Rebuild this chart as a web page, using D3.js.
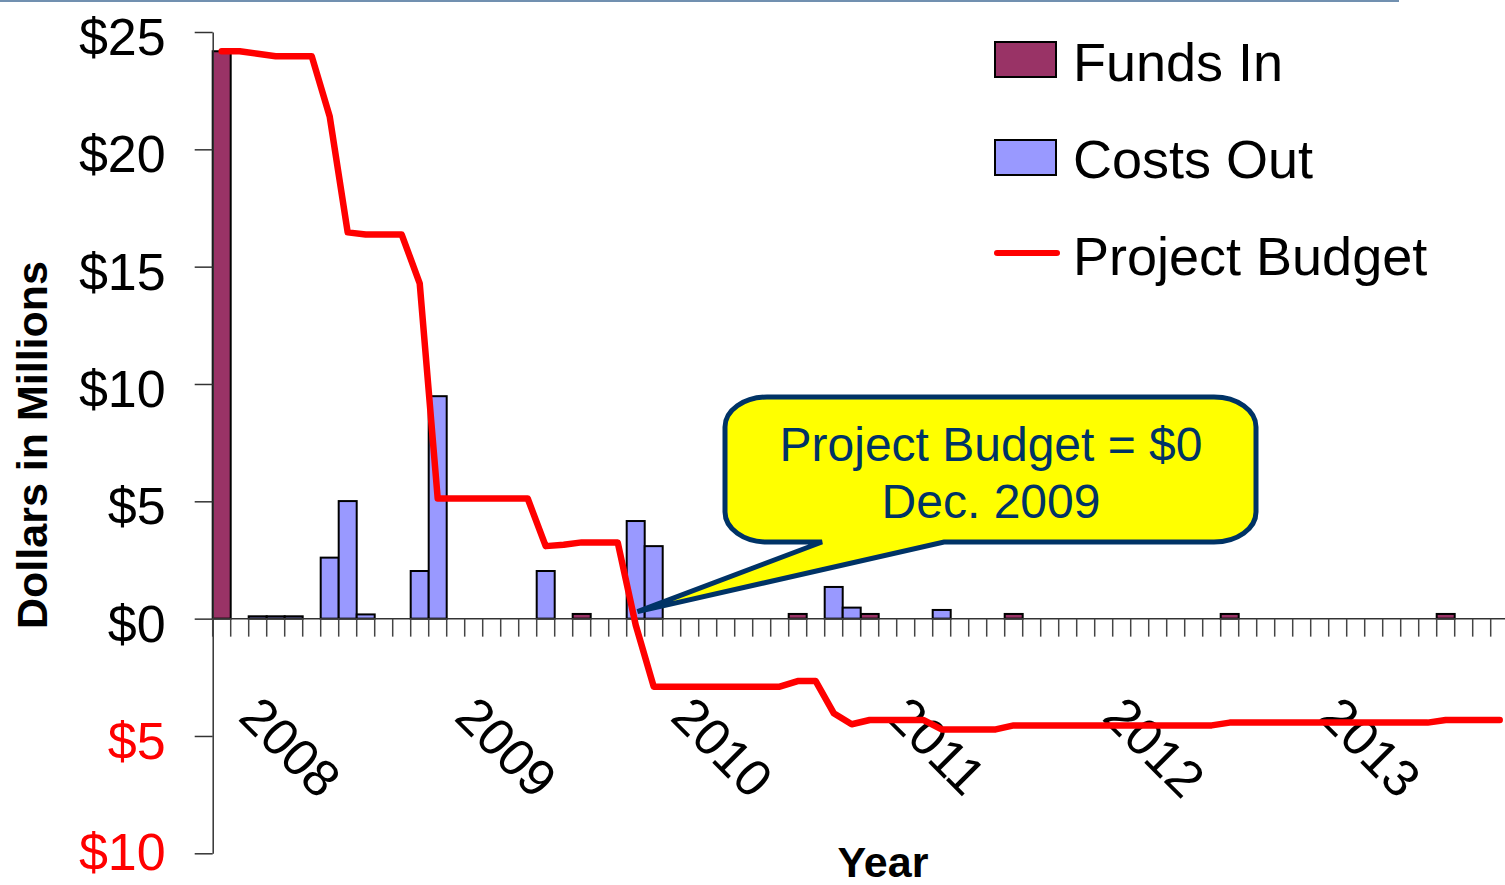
<!DOCTYPE html>
<html>
<head>
<meta charset="utf-8">
<script src="https://cdn.jsdelivr.net/npm/d3@7"></script>
<style>
  body { margin: 0; background: #fff; }
  svg { display: block; font-family: "Liberation Sans", Arial, sans-serif; }
</style>
</head>
<body>
<div id="chart"></div>
<script>
// categories: one slot per month, Jan 2008 .. Dec 2013
var years = ["2008", "2009", "2010", "2011", "2012", "2013"];
var months = years.flatMap(function(yr) {
  return d3.range(1, 13).map(function(m) { return yr + "-" + (m < 10 ? "0" + m : m); });
});

// $ millions per month
var fundsIn = [
  24.18, 0, 0, 0, 0, 0, 0, 0, 0, 0, 0, 0,
  0, 0, 0, 0, 0, 0, 0, 0, 0.2, 0, 0, 0,
  0, 0, 0, 0, 0, 0, 0, 0, 0.2, 0, 0, 0,
  0.2, 0, 0, 0, 0, 0, 0, 0, 0.2, 0, 0, 0,
  0, 0, 0, 0, 0, 0, 0, 0, 0.2, 0, 0, 0,
  0, 0, 0, 0, 0, 0, 0, 0, 0.2, 0, 0, 0
];
var costsOut = [
  0, 0, 0.1, 0.1, 0.1, 0, 2.6, 5.01, 0.18, 0, 0, 2.03,
  9.48, 0, 0, 0, 0, 0, 2.03, 0, 0, 0, 0, 4.16,
  3.09, 0, 0, 0, 0, 0, 0, 0, 0, 0, 1.35, 0.47,
  0, 0, 0, 0, 0.37, 0, 0, 0, 0, 0, 0, 0,
  0, 0, 0, 0, 0, 0, 0, 0, 0, 0, 0, 0,
  0, 0, 0, 0, 0, 0, 0, 0, 0, 0, 0, 0
];
var budget = [
  24.18, 24.18, 24.07, 23.97, 23.97, 23.97, 21.4, 16.46, 16.37, 16.37, 16.37, 14.29,
  5.12, 5.12, 5.12, 5.12, 5.12, 5.12, 3.09, 3.15, 3.25, 3.25, 3.25, -0.27,
  -2.9, -2.9, -2.9, -2.9, -2.9, -2.9, -2.9, -2.9, -2.66, -2.66, -4.03, -4.5,
  -4.32, -4.32, -4.32, -4.32, -4.72, -4.72, -4.72, -4.72, -4.55, -4.55, -4.55, -4.55,
  -4.55, -4.55, -4.55, -4.55, -4.55, -4.55, -4.55, -4.55, -4.43, -4.43, -4.43, -4.43,
  -4.43, -4.43, -4.43, -4.43, -4.43, -4.43, -4.43, -4.43, -4.32, -4.32, -4.32, -4.32
];
var yTicks = [-10, -5, 0, 5, 10, 15, 20, 25];
var seriesNames = ["Funds In", "Costs Out", "Project Budget"];

var width = 1505, height = 885;
var svg = d3.select("#chart").append("svg")
  .attr("width", width)
  .attr("height", height);

// slide header rule
svg.append("line")
  .attr("x1", 0).attr("x2", 1399).attr("y1", 1).attr("y2", 1)
  .attr("stroke", "#7190b0").attr("stroke-width", 2);

var x = d3.scaleBand().domain(months).range([212.7, 212.7 + 72 * 18]).padding(0);
var y = d3.scaleLinear().domain([-10, 25]).range([853.3, 32]);
var bw = x.bandwidth();

// bars
function drawBars(values, fill) {
  svg.append("g").selectAll("rect")
    .data(months.map(function(m, i) { return { m: m, v: values[i] }; })
      .filter(function(d) { return d.v > 0; }))
    .enter().append("rect")
    .attr("x", function(d) { return x(d.m); })
    .attr("y", function(d) { return y(d.v); })
    .attr("width", bw)
    .attr("height", function(d) { return y(0) - y(d.v); })
    .attr("fill", fill)
    .attr("stroke", "#000")
    .attr("stroke-width", 2);
}
drawBars(fundsIn, "#993366");
drawBars(costsOut, "#9999ff");

// y axis
var yAxis = svg.append("g")
  .attr("transform", "translate(212.7,0)")
  .call(d3.axisLeft(y).tickValues(yTicks).tickSize(18).tickSizeOuter(0).tickPadding(29)
    .tickFormat(function(d) { return "$" + Math.abs(d); }));
yAxis.select(".domain").attr("stroke", "#333").attr("stroke-width", 1.5);
yAxis.selectAll(".tick line").attr("stroke", "#333").attr("stroke-width", 1.5);
yAxis.selectAll(".tick text")
  .attr("font-size", 52)
  .attr("font-family", "Liberation Sans, Arial, sans-serif")
  .attr("dy", function(d) { return d === -10 ? "0.32em" : "0.43em"; })
  .attr("fill", function(d) { return d < 0 ? "#ff0000" : "#000"; });

// x axis along zero
var xAxis = svg.append("g");
xAxis.append("line")
  .attr("x1", x.range()[0]).attr("x2", width)
  .attr("y1", y(0)).attr("y2", y(0))
  .attr("stroke", "#333").attr("stroke-width", 1.5);
xAxis.selectAll("line.tick")
  .data(months)
  .enter().append("line")
  .attr("class", "tick")
  .attr("x1", function(d) { return x(d); }).attr("x2", function(d) { return x(d); })
  .attr("y1", y(0)).attr("y2", y(0) + 18)
  .attr("stroke", "#444").attr("stroke-width", 1.5);
xAxis.selectAll("text")
  .data(years)
  .enter().append("text")
  .attr("transform", function(d) {
    return "translate(" + (x(d + "-01") + 24) + ",719) rotate(45)";
  })
  .attr("font-size", 52)
  .text(function(d) { return d; });

// budget line
var line = d3.line()
  .x(function(d, i) { return x(months[i]) + bw / 2; })
  .y(function(d) { return y(d); });
svg.append("path")
  .datum(budget)
  .attr("d", line)
  .attr("fill", "none")
  .attr("stroke", "#ff0000")
  .attr("stroke-width", 6.5)
  .attr("stroke-linejoin", "round")
  .attr("stroke-linecap", "round");

// axis titles
svg.append("text")
  .attr("transform", "translate(47,445) rotate(-90)")
  .attr("text-anchor", "middle")
  .attr("font-size", 43)
  .attr("font-weight", "bold")
  .text("Dollars in Millions");
svg.append("text")
  .attr("x", 883).attr("y", 877)
  .attr("text-anchor", "middle")
  .attr("font-size", 43)
  .attr("font-weight", "bold")
  .text("Year");

// legend
var legend = svg.append("g");
legend.append("rect").attr("x", 995).attr("y", 42).attr("width", 61).attr("height", 35)
  .attr("fill", "#993366").attr("stroke", "#000").attr("stroke-width", 2);
legend.append("rect").attr("x", 995).attr("y", 140).attr("width", 61).attr("height", 35)
  .attr("fill", "#9999ff").attr("stroke", "#000").attr("stroke-width", 2);
legend.append("line").attr("x1", 997).attr("x2", 1057).attr("y1", 253).attr("y2", 253)
  .attr("stroke", "#ff0000").attr("stroke-width", 6).attr("stroke-linecap", "round");
legend.selectAll("text")
  .data(seriesNames)
  .enter().append("text")
  .attr("x", 1073)
  .attr("y", function(d, i) { return 81 + i * 97; })
  .attr("font-size", 54)
  .text(function(d) { return d; });

// callout pointing at the zero crossing (Dec. 2009)
var tipX = x(months[23]) + bw * 0.6, tipY = y(0.3);
var bx0 = 725, bx1 = 1256, by0 = 397, by1 = 542, rx = 42, ry = 30;
var callout = svg.append("g");
callout.append("path")
  .attr("d", "M" + (bx0 + rx) + "," + by0 +
    "H" + (bx1 - rx) +
    "A" + rx + "," + ry + " 0 0 1 " + bx1 + "," + (by0 + ry) +
    "V" + (by1 - ry) +
    "A" + rx + "," + ry + " 0 0 1 " + (bx1 - rx) + "," + by1 +
    "H944L" + tipX + "," + tipY + "L822," + by1 +
    "H" + (bx0 + rx) +
    "A" + rx + "," + ry + " 0 0 1 " + bx0 + "," + (by1 - ry) +
    "V" + (by0 + ry) +
    "A" + rx + "," + ry + " 0 0 1 " + (bx0 + rx) + "," + by0 + "Z")
  .attr("fill", "#ffff00")
  .attr("stroke", "#003366")
  .attr("stroke-width", 5)
  .attr("stroke-linejoin", "miter");
callout.selectAll("text")
  .data(["Project Budget = $0", "Dec. 2009"])
  .enter().append("text")
  .attr("x", 991)
  .attr("y", function(d, i) { return 461 + i * 57; })
  .attr("text-anchor", "middle")
  .attr("font-size", 48)
  .attr("fill", "#003366")
  .text(function(d) { return d; });
</script>
</body>
</html>
